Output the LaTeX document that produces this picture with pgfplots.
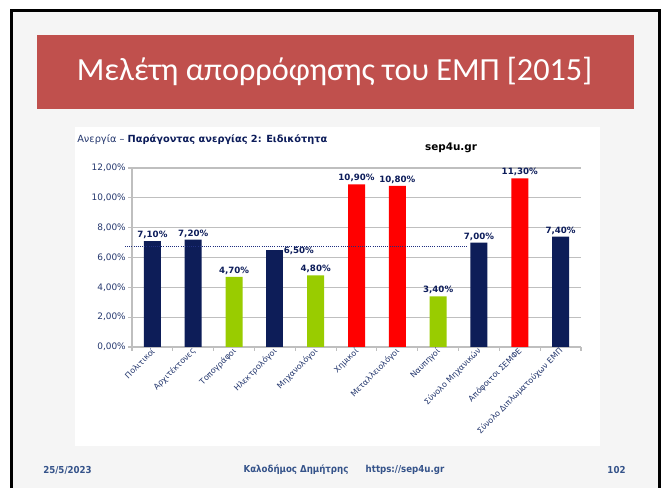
\documentclass[border=0pt]{standalone}
\usepackage{fontspec}
\setmainfont{DejaVu Sans}
\newfontfamily\carlito{Carlito}
\newfontfamily\condfont{DejaVu Sans Condensed}
\usepackage{pgfplots}
\pgfplotsset{compat=1.18}
\definecolor{slidebg}{HTML}{F5F5F5}
\definecolor{titlered}{HTML}{C0504D}
\definecolor{navy}{HTML}{0C1C5A}
\definecolor{barnavy}{HTML}{0D1D58}
\definecolor{bargreen}{HTML}{99CC00}
\definecolor{barred}{HTML}{FF0000}
\definecolor{labelblue}{HTML}{24376E}
\definecolor{footblue}{HTML}{35538A}
\definecolor{gridgray}{HTML}{BFBFBF}
\definecolor{dotblue}{HTML}{1F2F80}
\begin{document}
\begin{tikzpicture}[x=0.75pt,y=0.75pt]
% page
\fill[white] (0,0) rectangle (666,488);
\fill[slidebg] (11,0) rectangle (659,478);
\draw[black, line width=2.25pt] (11.5,0) -- (11.5,477.5) -- (659,477.5) -- (659,0);
% title box
\fill[titlered] (37,{488-35}) rectangle (634,{488-109});
\node[text=white, font=\carlito\fontsize{24.2}{27}\selectfont, anchor=center] at (334.5,{488-71}) {Μελέτη απορρόφησης του ΕΜΠ [2015]};
% chart area
\fill[white] (75,{488-127}) rectangle (600,{488-446});
\node[anchor=base west, inner sep=0pt, font=\fontsize{7.35}{8}\selectfont] at (77,{488-143}) {\textcolor{labelblue}{Ανεργία –} \textcolor{navy}{\bfseries Παράγοντας ανεργίας 2: Ειδικότητα}};
\node[anchor=center, inner sep=0pt, font=\bfseries\fontsize{7.8}{9}\selectfont] at (451,{488-148}) {sep4u.gr};
% footer
\begin{scope}[every node/.style={text=footblue, font=\condfont\bfseries\fontsize{7.2}{8}\selectfont, inner sep=0pt, anchor=center}]
\node at (67.5,18) {25/5/2023};
\node at (296,18) {Καλοδήμος Δημήτρης};
\node at (405,18) {https://sep4u.gr};
\node at (616.5,18) {102};
\end{scope}
\coordinate (axorigin) at (132,{488-347});
\begin{axis}[
  at={(axorigin)}, anchor=south west,
  scale only axis, width=336.75pt, height=134.25pt,
  xmin=-0.5, xmax=10.5, ymin=0, ymax=12,
  ybar, bar width=12.75pt,
  clip=false,
  /pgf/number format/assume math mode=true,
  axis x line*=bottom, axis y line*=left,
  axis line style={gridgray, line width=0.8pt},
  ytick={0,2,...,12},
  ymajorgrids, grid style={gridgray, line width=0.8pt},
  tick align=outside, major tick length=3pt,
  tick style={gridgray, line width=0.8pt},
  yticklabel style={text=labelblue, font=\fontsize{6.7}{8}\selectfont, inner sep=1.5pt},
  yticklabel={\pgfmathprintnumber[fixed,fixed zerofill,precision=2,use comma]{\tick}\%},
  xtick={-0.5,0.5,...,10.5}, xticklabels={},
  extra x ticks={0,1,2,3,4,5,6,7,8,9,10},
  extra x tick labels={Πολιτικοί,Αρχιτέκτονες,Τοπογράφοι,Ηλεκτρολόγοι,Μηχανολόγοι,Χημικοί,Μεταλλειολόγοι,Ναυπηγοί,Σύνολο Μηχανικών,Απόφοιτοι ΣΕΜΦΕ,Σύνολο Διπλωματούχων ΕΜΠ},
  extra x tick style={major tick length=0pt, grid=none,
    xticklabel style={rotate=45, anchor=east, text=labelblue, font=\fontsize{6}{7}\selectfont, inner sep=1pt, yshift=-2pt}},
  nodes near coords={\pgfmathprintnumber[fixed,fixed zerofill,precision=2,use comma]{\pgfplotspointmeta}\%},
  every node near coord/.append style={text=navy, font=\bfseries\fontsize{6.5}{8}\selectfont, inner sep=1.5pt},
]
\addplot[fill=barnavy, draw=none, bar shift=0pt] coordinates {(0,7.1) (1,7.2) (8,7.0) (10,7.4)};
\addplot[fill=barnavy, draw=none, bar shift=0pt,
  every node near coord/.append style={anchor=west, xshift=5pt, yshift=-0.5pt}] coordinates {(3,6.5)};
\addplot[fill=bargreen, draw=none, bar shift=0pt] coordinates {(2,4.7) (4,4.8) (7,3.4)};
\addplot[fill=barred, draw=none, bar shift=0pt] coordinates {(5,10.9) (6,10.8) (9,11.3)};
\addplot[sharp plot, dotblue, densely dotted, line width=0.6pt, nodes near coords={}, forget plot] coordinates {(-0.67,6.75) (7.74,6.75)};
\end{axis}
\end{tikzpicture}
\end{document}
